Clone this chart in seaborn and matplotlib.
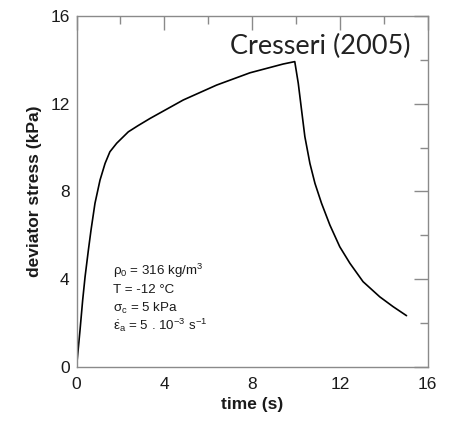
import matplotlib
matplotlib.use("Agg")
import matplotlib.pyplot as plt
from matplotlib.ticker import MultipleLocator
import seaborn as sns
import pandas as pd

# Deviator stress history: loading up to t = 10 s, then relaxation
time_s = [0.0, 0.16, 0.28, 0.39, 0.54, 0.66, 0.84, 1.07, 1.30, 1.52, 1.83,
          2.36, 2.80, 3.35, 4.86, 6.38, 7.90, 9.41, 9.94,
          10.10, 10.25, 10.40, 10.63, 10.86, 11.16, 11.54, 11.99, 12.45,
          13.05, 13.81, 14.42, 15.03]
stress_kpa = [0.0, 1.69, 3.05, 4.12, 5.33, 6.24, 7.46, 8.52, 9.28, 9.81, 10.20,
              10.72, 11.00, 11.33, 12.17, 12.85, 13.41, 13.81, 13.92,
              12.93, 11.71, 10.50, 9.28, 8.37, 7.46, 6.47, 5.48, 4.73,
              3.89, 3.20, 2.75, 2.34]

x_ticks = [0, 4, 8, 12, 16]
y_ticks = [0, 4, 8, 12, 16]

sns.set_style("white")
plt.rcParams["font.family"] = ["Liberation Sans", "DejaVu Sans"]
plt.rcParams["mathtext.fontset"] = "custom"
plt.rcParams["mathtext.rm"] = "Liberation Sans"
plt.rcParams["mathtext.it"] = "Liberation Sans"
plt.rcParams["mathtext.bf"] = "Liberation Sans:bold"

df = pd.DataFrame({"time": time_s, "stress": stress_kpa})

fig = plt.figure(figsize=(4.61, 4.26), dpi=100)
ax = fig.add_axes([0.166, 0.1385, 0.762, 0.824])

sns.lineplot(data=df, x="time", y="stress", ax=ax, color="black",
             linewidth=1.2, sort=False, estimator=None)

ax.set_xlim(0, 16)
ax.set_ylim(0, 16)
ax.set_xticks(x_ticks)
ax.set_yticks(y_ticks)
ax.xaxis.set_minor_locator(MultipleLocator(2))
ax.yaxis.set_minor_locator(MultipleLocator(2))

spine_color = "#8a8a8a"
for s in ax.spines.values():
    s.set_color(spine_color)
    s.set_linewidth(1.0)
    s.set_visible(True)

ax.tick_params(which="both", direction="in", top=True, right=True,
               color=spine_color, width=1.0, labelsize=12.5,
               labelcolor="#1a1a1a")
ax.tick_params(axis="x", which="major", pad=7)
ax.tick_params(axis="y", which="major", pad=5)
ax.tick_params(which="major", length=10)
ax.tick_params(which="minor", length=6)

ax.set_xlabel("time (s)", fontsize=12.5, fontweight="bold", color="#1a1a1a", labelpad=4)
ax.set_ylabel("deviator stress (kPa)", fontsize=12.5, fontweight="bold",
              color="#1a1a1a", labelpad=6)

ax.text(0.952, 0.95, "Cresseri (2005)", transform=ax.transAxes, ha="right",
        va="top", fontsize=19.5, color="#222222", family=["Lato", "DejaVu Sans"])

params = [r"$\rho_0$ = 316 kg/m$^3$",
          r"T = -12 °C",
          r"$\sigma_c$ = 5 kPa",
          r"$\dot{\varepsilon}_a$ = 5 . 10$^{-3}$ s$^{-1}$"]
for i, line in enumerate(params):
    ax.text(1.66, 4.2 - i * 0.84, line, fontsize=9.6, color="#1a1a1a",
            ha="left", va="baseline")

fig.savefig("out.png", dpi=100)
